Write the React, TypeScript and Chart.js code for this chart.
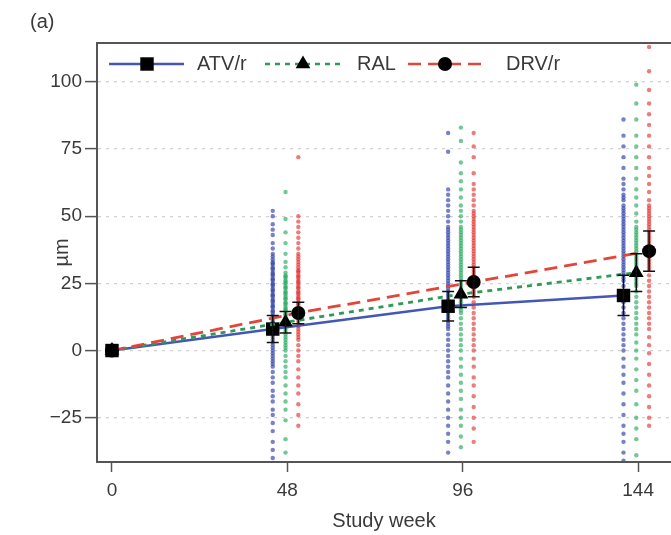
import { useEffect, useRef } from "react";
import { Chart, registerables } from "chart.js";

Chart.register(...registerables);

// ---------- data ----------
const WEEKS = [0, 48, 96, 144];
const X_TICKS = [0, 48, 96, 144];
const Y_TICKS = [-25, 0, 25, 50, 75, 100];

const SERIES_NAMES = ["ATV/r", "RAL", "DRV/r"];

const ATV_MEAN = [0, 8, 16.5, 20.5];
const RAL_MEAN = [0, 10.5, 21, 29];
const DRV_MEAN = [0, 14, 25.5, 37];

const ATV_ERR = [0, 5, 5.5, 7.5];
const RAL_ERR = [0, 4, 5, 7];
const DRV_ERR = [0, 4, 5.5, 7.5];

// individual patient changes (µm)
const ATV_W48 = [52, 50, 47, 45, 43, 40, 38, 36, 35, 34, 33, 32.5, 32, 31, 30.5, 30, 29, 28.5, 28, 27, 26.5, 26, 25, 24.5, 24, 23, 22.5, 22, 21, 20.5, 20, 19, 18.5, 18, 17, 16.5, 16, 15, 14.5, 14, 13, 12.5, 12, 11, 10.5, 10, 9, 8.5, 8, 7, 6.5, 6, 5, 4, 3, 2, 1, 0, -1, -2, -3, -4, -5, -6, -8, -10, -12, -15, -17, -19, -22, -24, -27, -30, -34, -37, -40, -42];
const RAL_W48 = [59, 49, 44, 40, 36, 33, 31, 29, 28, 27.5, 27, 26, 25.5, 25, 24, 23.5, 23, 22, 21.5, 21, 20, 19.5, 19, 18, 17.5, 17, 16, 15.5, 15, 14, 13.5, 13, 12, 11.5, 11, 10, 9.5, 9, 8, 7, 6, 5, 4, 3, 2, 1, 0, -2, -4, -6, -8, -10, -13, -16, -19, -22, -26, -33, -38];
const DRV_W48 = [72, 50, 48, 46, 44, 42, 40, 38, 36, 35, 34, 33, 32, 31, 30, 29.5, 29, 28, 27.5, 27, 26, 25.5, 25, 24, 23.5, 23, 22, 21.5, 21, 20, 19.5, 19, 18, 17.5, 17, 16, 15.5, 15, 14, 13, 12, 11, 10, 9, 8, 7, 6, 5, 4, 2, 0, -2, -4, -7, -10, -13, -16, -20, -24, -28];

const ATV_W96 = [81, 74, 60, 58, 56, 54, 52, 50, 48, 46, 45, 44, 43, 42, 41, 40, 39, 38, 37, 36, 35, 34, 33, 32, 31, 30, 29, 28, 27, 26, 25, 24, 23, 22, 21, 20, 19, 18, 17, 16, 15, 14, 13, 12, 11, 10, 9, 8, 6, 4, 2, 0, -2, -4, -6, -8, -10, -13, -16, -19, -22, -25, -28, -31, -34, -38];
const RAL_W96 = [83, 78, 70, 66, 63, 60, 57, 54, 52, 50, 48, 46, 45, 44, 43, 42, 41, 40, 39, 38, 37, 36, 35, 34, 33, 32, 31, 30, 29, 28, 27, 26, 25, 24, 23, 22, 21, 20, 19, 18, 17, 16, 15, 14, 12, 10, 8, 6, 4, 2, 0, -3, -6, -9, -12, -15, -18, -22, -25, -28, -32, -36];
const DRV_W96 = [81, 76, 72, 66, 62, 60, 58, 56, 54, 52, 51, 50, 49, 48, 47, 46, 45, 44, 43, 42, 41, 40, 39, 38, 37, 36, 35, 34, 33, 32, 31, 30, 29, 28, 27, 26, 25, 24, 23, 22, 21, 20, 18, 16, 14, 12, 10, 8, 6, 4, 2, 0, -3, -6, -10, -13, -17, -21, -25, -29, -34];

const ATV_W144 = [86, 80, 76, 72, 68, 64, 62, 60, 58, 57, 56, 54, 53, 52, 51, 50, 49, 48, 47, 46, 45, 44, 43, 42, 41, 40, 39, 38, 37, 36, 35, 34, 33, 32, 31, 30, 29, 28, 27, 26, 24, 22, 20, 18, 16, 14, 12, 10, 8, 6, 4, 2, 0, -3, -6, -9, -12, -16, -20, -24, -28, -31, -34, -38, -41];
const RAL_W144 = [99, 92, 86, 80, 76, 72, 68, 64, 60, 57, 54, 51, 48, 46, 45, 44, 43, 42, 41, 40, 39, 38, 37, 36, 35, 34, 33, 32, 31, 30, 29, 28, 27, 26, 25, 24, 22, 20, 18, 16, 14, 12, 10, 8, 6, 3, 0, -3, -7, -11, -15, -20, -25, -29, -33, -39];
const DRV_W144 = [113, 104, 97, 92, 88, 84, 80, 76, 72, 68, 65, 62, 59, 56, 54, 53, 52, 51, 50, 49, 48, 47, 46, 45, 44, 43, 42, 41, 40, 39, 38, 37, 36, 35, 34, 33, 32, 31, 30, 28, 26, 24, 22, 20, 18, 16, 14, 12, 10, 8, 5, 2, -1, -5, -9, -13, -17, -21, -25, -28];

// ---------- styling ----------
const FONT = '"Liberation Sans", Arial, Helvetica, sans-serif';
const TEXT = "#3a3a3a";
const AXIS = "#555555";
const OFFSETS = [-4, -0.5, 3]; // horizontal dodge per group (weeks)
const LINE_COLORS = ["#4457b5", "#2f9a56", "#e2463b"];
const DOT_COLORS = ["rgba(60,75,175,0.7)", "rgba(40,170,95,0.65)", "rgba(228,55,50,0.65)"];
const DASHES: number[][] = [[], [5, 5], [13, 7]];
const MARKERS = ["rect", "triangle", "circle"];
const MARKER_R = [9.5, 8.5, 7];

const MEANS = [ATV_MEAN, RAL_MEAN, DRV_MEAN];
const ERRS = [ATV_ERR, RAL_ERR, DRV_ERR];
const INDIV = [
  [ATV_W48, ATV_W96, ATV_W144],
  [RAL_W48, RAL_W96, RAL_W144],
  [DRV_W48, DRV_W96, DRV_W144],
];

const xPos = (s: number, i: number) => (WEEKS[i] === 0 ? 0 : WEEKS[i] + OFFSETS[s]);

function drawMarker(ctx: CanvasRenderingContext2D, style: string, x: number, y: number, r: number) {
  ctx.save();
  ctx.fillStyle = "#000";
  ctx.beginPath();
  if (style === "rect") {
    const h = r * Math.SQRT1_2;
    ctx.rect(x - h, y - h, 2 * h, 2 * h);
  } else if (style === "triangle") {
    ctx.moveTo(x, y - r);
    ctx.lineTo(x + r * 0.866, y + r * 0.5);
    ctx.lineTo(x - r * 0.866, y + r * 0.5);
    ctx.closePath();
  } else {
    ctx.arc(x, y, r, 0, Math.PI * 2);
  }
  ctx.fill();
  ctx.restore();
}

const decorPlugin = {
  id: "decor",
  afterDatasetsDraw(chart: any) {
    const { ctx, chartArea, scales } = chart;
    const xs = scales.x;
    const ys = scales.y;
    // error bars
    ctx.save();
    ctx.strokeStyle = "#111";
    ctx.lineWidth = 1.5;
    for (let s = 0; s < 3; s++) {
      for (let i = 1; i < WEEKS.length; i++) {
        const px = xs.getPixelForValue(xPos(s, i));
        const lo = ys.getPixelForValue(MEANS[s][i] - ERRS[s][i]);
        const hi = ys.getPixelForValue(MEANS[s][i] + ERRS[s][i]);
        ctx.beginPath();
        ctx.moveTo(px, lo);
        ctx.lineTo(px, hi);
        ctx.moveTo(px - 6, lo);
        ctx.lineTo(px + 6, lo);
        ctx.moveTo(px - 6, hi);
        ctx.lineTo(px + 6, hi);
        ctx.stroke();
      }
    }
    ctx.restore();
    // top frame line
    ctx.save();
    ctx.strokeStyle = AXIS;
    ctx.lineWidth = 2;
    ctx.beginPath();
    ctx.moveTo(chartArea.left, chartArea.top);
    ctx.lineTo(chartArea.right, chartArea.top);
    ctx.stroke();
    ctx.restore();
    // legend
    const ly = 64;
    const items = [
      { x1: 109, x2: 184, mx: 147, tx: 197 },
      { x1: 265, x2: 340, mx: 303, tx: 357 },
      { x1: 408, x2: 481, mx: 445, tx: 506 },
    ];
    items.forEach((it, s) => {
      ctx.save();
      ctx.strokeStyle = LINE_COLORS[s];
      ctx.lineWidth = 2.5;
      ctx.setLineDash(DASHES[s]);
      ctx.beginPath();
      ctx.moveTo(it.x1, ly);
      ctx.lineTo(it.x2, ly);
      ctx.stroke();
      ctx.restore();
      drawMarker(ctx, MARKERS[s], it.mx, ly, MARKER_R[s]);
      ctx.save();
      ctx.fillStyle = TEXT;
      ctx.font = `20px ${FONT}`;
      ctx.textBaseline = "middle";
      ctx.textAlign = "left";
      ctx.fillText(SERIES_NAMES[s], it.tx, ly);
      ctx.restore();
    });
    // panel label
    ctx.save();
    ctx.fillStyle = TEXT;
    ctx.font = `20px ${FONT}`;
    ctx.textBaseline = "middle";
    ctx.textAlign = "left";
    ctx.fillText("(a)", 30, 22);
    ctx.restore();
  },
};

export default function App() {
  const ref = useRef<HTMLCanvasElement | null>(null);

  useEffect(() => {
    if (!ref.current) return;

    const scatterSets: any[] = [];
    for (let s = 0; s < 3; s++) {
      const pts: { x: number; y: number }[] = [];
      INDIV[s].forEach((vals, k) => {
        const i = k + 1;
        vals.forEach((v) => pts.push({ x: xPos(s, i), y: v }));
      });
      scatterSets.push({
        type: "scatter",
        label: SERIES_NAMES[s] + " individual",
        data: pts,
        pointRadius: 2.2,
        pointBackgroundColor: DOT_COLORS[s],
        pointBorderWidth: 0,
        showLine: false,
        order: 10,
      });
    }

    const lineSets: any[] = [0, 1, 2].map((s) => ({
      type: "line",
      label: SERIES_NAMES[s],
      data: WEEKS.map((_, i) => ({ x: xPos(s, i), y: MEANS[s][i] })),
      borderColor: LINE_COLORS[s],
      borderWidth: s === 0 ? 2.4 : 2.8,
      borderDash: DASHES[s],
      pointStyle: MARKERS[s],
      pointRadius: MARKER_R[s],
      pointBackgroundColor: "#000",
      pointBorderColor: "#000",
      pointBorderWidth: 0,
      fill: false,
      tension: 0,
      order: 3 - s,
    }));

    const chart = new Chart(ref.current, {
      type: "scatter",
      data: { datasets: [...lineSets, ...scatterSets] },
      options: {
        animation: false,
        responsive: false,
        layout: { autoPadding: false, padding: { top: 43, left: 0, right: 0, bottom: 0 } },
        plugins: { legend: { display: false }, tooltip: { enabled: false }, title: { display: false } },
        scales: {
          x: {
            type: "linear",
            min: -4.1,
            max: 153,
            afterBuildTicks: (sc: any) => {
              sc.ticks = X_TICKS.map((v) => ({ value: v }));
            },
            afterFit: (sc: any) => {
              sc.height = 73;
              sc.paddingLeft = 0;
              sc.paddingRight = 0;
            },
            ticks: {
              color: TEXT,
              font: { family: FONT, size: 19 },
              padding: 7,
              maxRotation: 0,
              autoSkip: false,
            },
            grid: { display: true, drawOnChartArea: false, drawTicks: true, tickLength: 10, tickColor: AXIS, tickWidth: 1.5 },
            border: { display: true, color: AXIS, width: 2 },
            title: {
              display: true,
              text: "Study week",
              color: TEXT,
              font: { family: FONT, size: 20 },
              padding: { top: 2, bottom: 2 },
            },
          },
          y: {
            type: "linear",
            min: -41.5,
            max: 114.5,
            afterBuildTicks: (sc: any) => {
              sc.ticks = Y_TICKS.map((v) => ({ value: v }));
            },
            afterFit: (sc: any) => {
              sc.width = 97;
              sc.paddingTop = 0;
              sc.paddingBottom = 0;
            },
            ticks: {
              color: TEXT,
              font: { family: FONT, size: 19 },
              padding: 3,
              callback: (v: any) => (Number(v) < 0 ? "\u2212" + Math.abs(Number(v)) : String(v)),
            },
            grid: {
              display: true,
              drawOnChartArea: true,
              drawTicks: true,
              tickLength: 12,
              color: "#d2d2d2",
              lineWidth: 1.2,
              tickColor: AXIS,
              tickWidth: 1.5,
            },
            border: { display: true, color: AXIS, width: 2, dash: [3, 5] },
            title: {
              display: true,
              text: "µm",
              color: TEXT,
              font: { family: FONT, size: 20 },
              padding: { top: 50, bottom: 0 },
            },
          },
        },
      },
      plugins: [decorPlugin],
    } as any);

    return () => chart.destroy();
  }, []);

  return (
    <div style={{ position: "fixed", left: 0, top: 0, width: 671, height: 535, background: "#fff", overflow: "hidden" }}>
      <canvas ref={ref} width={671} height={535} style={{ display: "block" }} />
    </div>
  );
}
